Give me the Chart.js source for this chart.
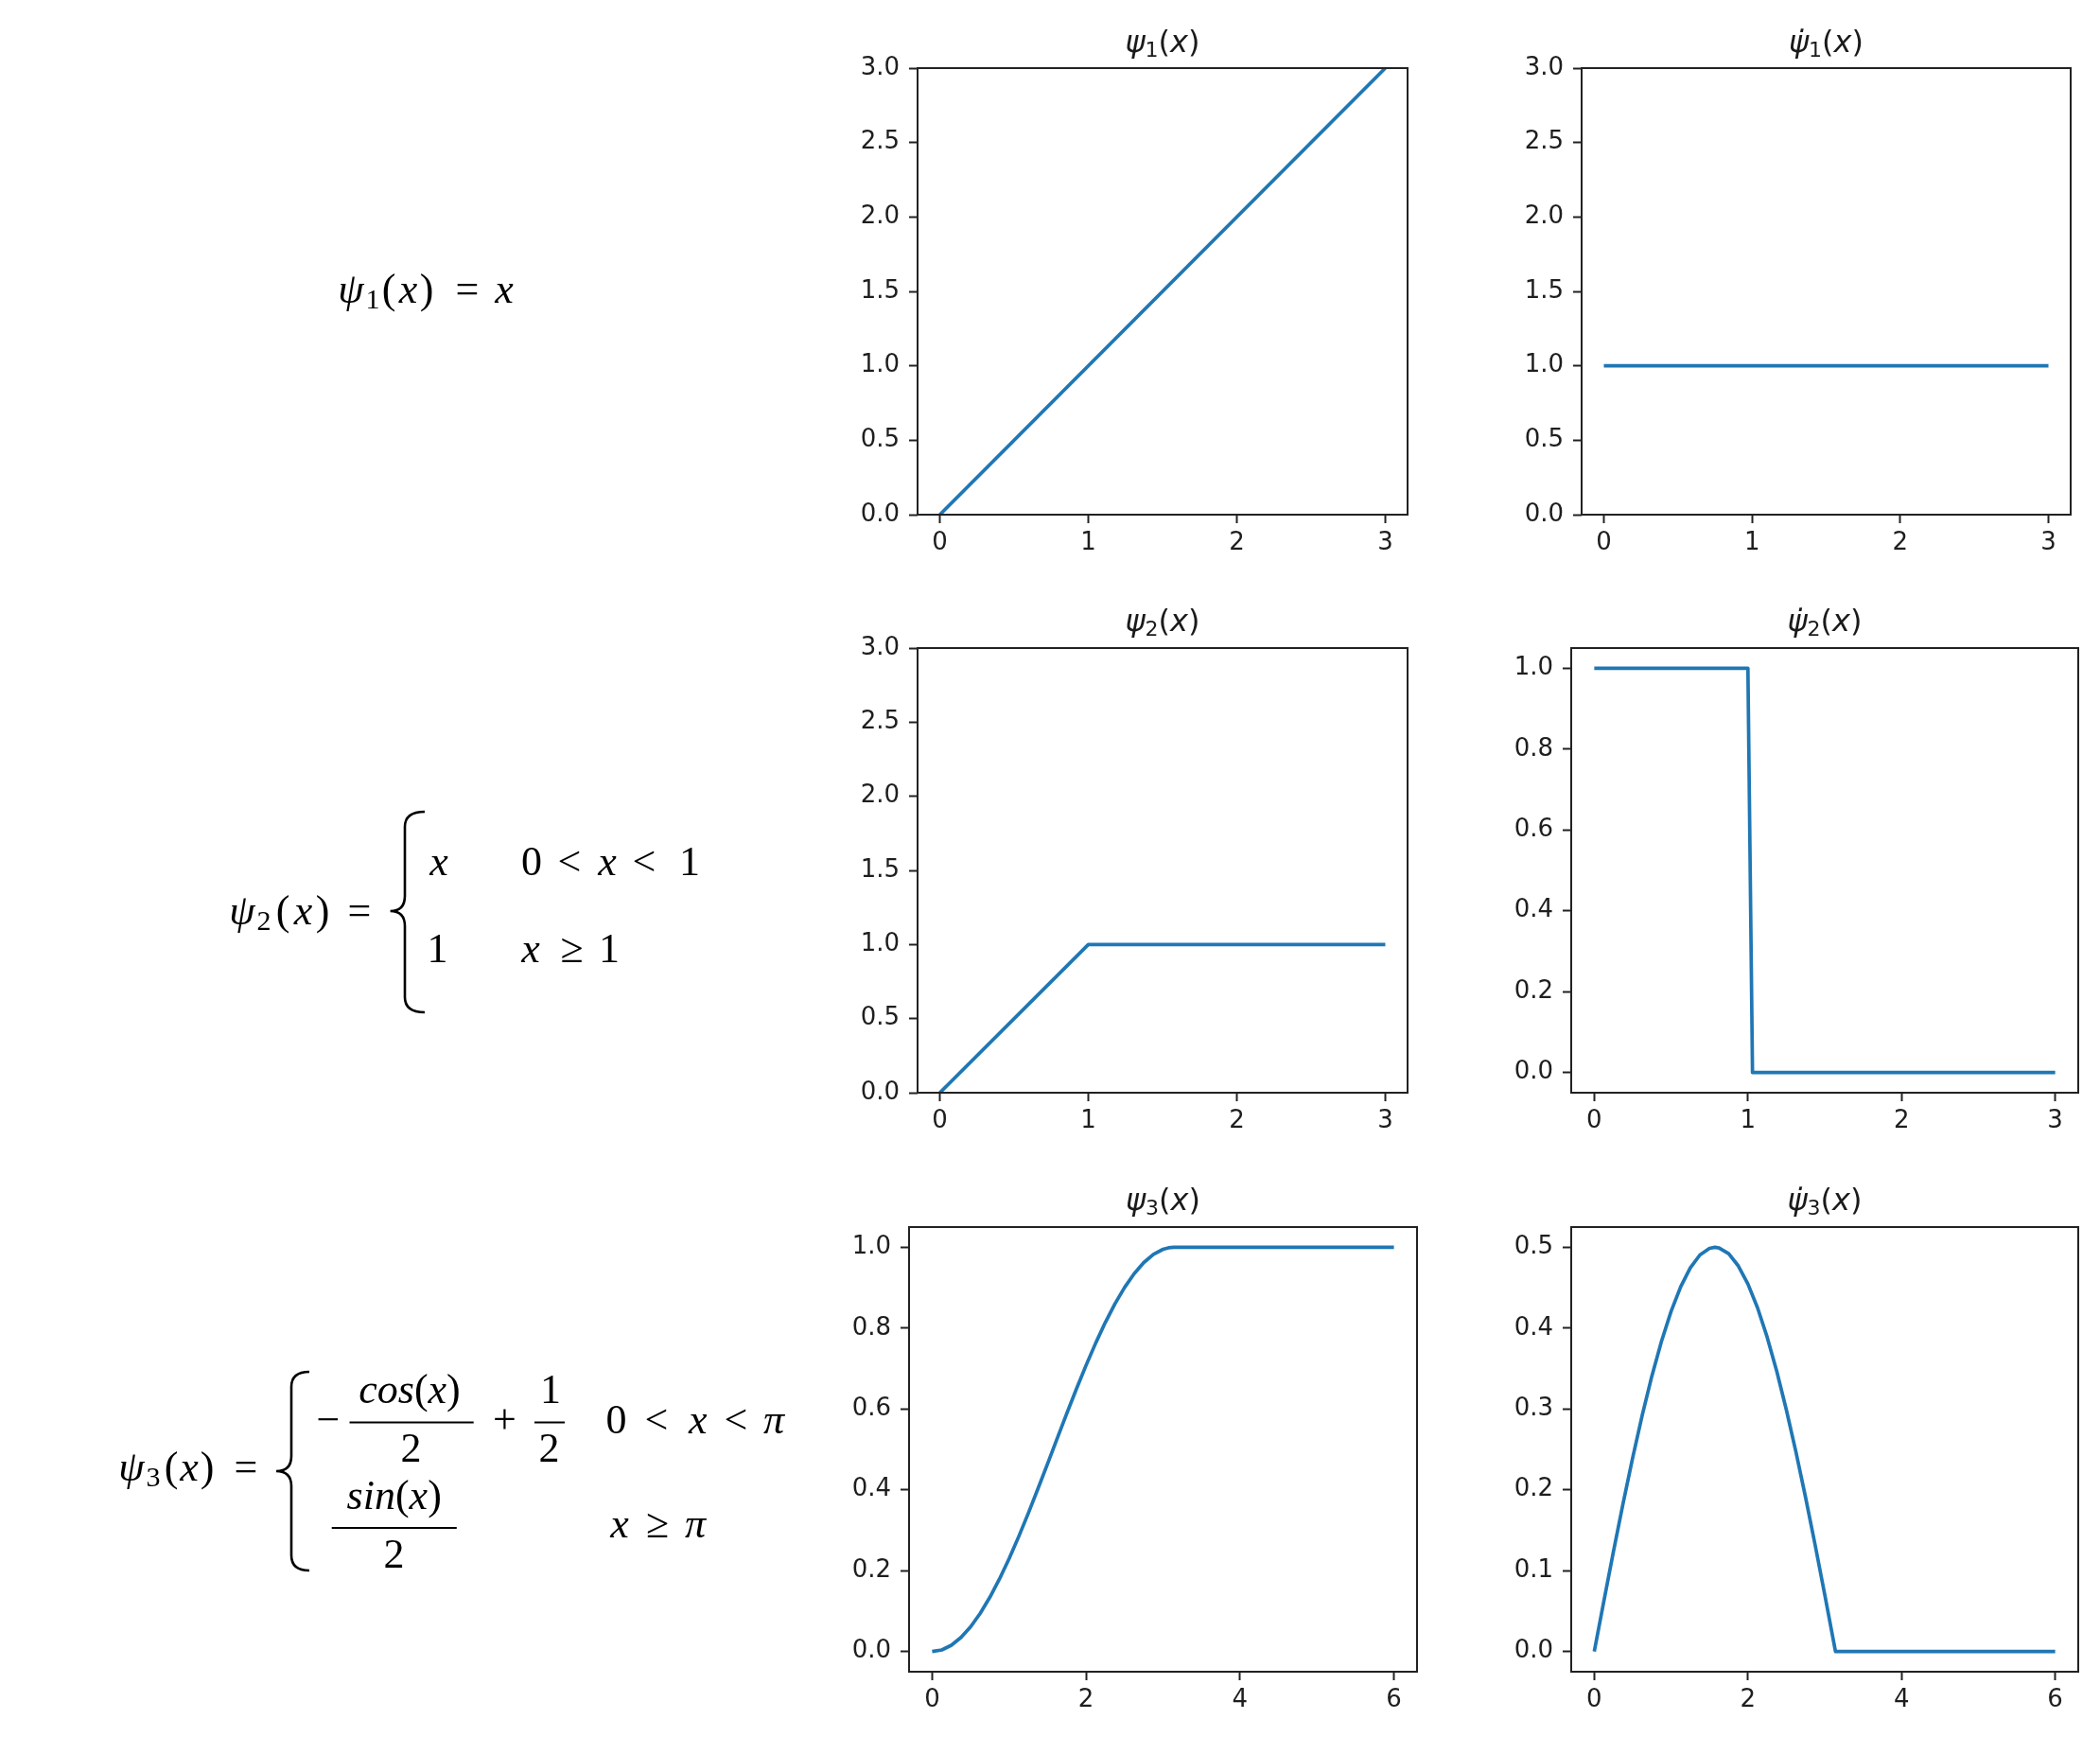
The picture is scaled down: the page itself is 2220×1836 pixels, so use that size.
<!DOCTYPE html>
<html><head><meta charset="utf-8">
<script src="https://cdn.jsdelivr.net/npm/chart.js@4.4.0/dist/chart.umd.min.js"></script>
<style>
html,body{margin:0;padding:0;background:#fff;}
body{width:2220px;height:1836px;position:relative;overflow:hidden;}
canvas{position:absolute;}
#math{position:absolute;left:0;top:0;}
#math text{font-family:"Liberation Serif","Times New Roman",serif;font-size:44px;fill:#000;text-anchor:middle;}
#math text.t{font-family:"DejaVu Sans",sans-serif;font-size:32px;fill:#1a1a1a;}
#math .i{font-style:italic;}
</style></head><body>
<svg id="math" width="2220" height="1836" xmlns="http://www.w3.org/2000/svg">
  <!-- formula 1 -->
  <text x="371" y="320" class="i">ψ</text>
  <text x="394" y="326" style="font-size:30px">1</text>
  <text x="411" y="320">(</text>
  <text x="431.5" y="320" class="i">x</text>
  <text x="451" y="320">)</text>
  <text x="494" y="320">=</text>
  <text x="533" y="320" class="i">x</text>

  <!-- formula 2 -->
  <text x="256" y="977" class="i">ψ</text>
  <text x="279" y="983" style="font-size:30px">2</text>
  <text x="299" y="977">(</text>
  <text x="320.6" y="977" class="i">x</text>
  <text x="341" y="977">)</text>
  <text x="380" y="977">=</text>
  <path d="M449,858 Q428,858 428,874 L428,947 Q428,963 412.6,963 Q428,963 428,979 L428,1054 Q428,1070 449,1070" fill="none" stroke="#000" stroke-width="2.6"/>
  <text x="464" y="925" class="i">x</text>
  <text x="562" y="925">0</text>
  <text x="602" y="925">&lt;</text>
  <text x="642" y="925" class="i">x</text>
  <text x="681" y="925">&lt;</text>
  <text x="729" y="925">1</text>
  <text x="462.5" y="1017">1</text>
  <text x="561" y="1017" class="i">x</text>
  <text x="604.5" y="1017">≥</text>
  <text x="644" y="1017">1</text>

  <!-- formula 3 -->
  <text x="139" y="1565" class="i">ψ</text>
  <text x="162" y="1571" style="font-size:30px">3</text>
  <text x="181" y="1565">(</text>
  <text x="200" y="1565" class="i">x</text>
  <text x="219" y="1565">)</text>
  <text x="260" y="1565">=</text>
  <path d="M327,1450 Q308,1450 308,1466 L308,1539 Q308,1555 292,1555 Q308,1555 308,1571 L308,1644 Q308,1660 327,1660" fill="none" stroke="#000" stroke-width="2.6"/>
  <text x="347" y="1515">−</text>
  <text x="433" y="1483"><tspan class="i">cos</tspan>(<tspan class="i">x</tspan>)</text>
  <line x1="369.5" y1="1503.5" x2="500.7" y2="1503.5" stroke="#000" stroke-width="2"/>
  <text x="434.5" y="1545">2</text>
  <text x="533.5" y="1515">+</text>
  <text x="582" y="1483">1</text>
  <line x1="565" y1="1503.5" x2="597" y2="1503.5" stroke="#000" stroke-width="2"/>
  <text x="580.5" y="1545">2</text>
  <text x="651.5" y="1515">0</text>
  <text x="694" y="1515">&lt;</text>
  <text x="737.7" y="1515" class="i">x</text>
  <text x="778" y="1515">&lt;</text>
  <text x="818" y="1515" class="i">π</text>
  <text x="416.7" y="1595"><tspan class="i">sin</tspan>(<tspan class="i">x</tspan>)</text>
  <line x1="350.7" y1="1615" x2="482.8" y2="1615" stroke="#000" stroke-width="2"/>
  <text x="416.5" y="1657">2</text>
  <text x="655" y="1625" class="i">x</text>
  <text x="695" y="1625">≥</text>
  <text x="735" y="1625" class="i">π</text>

  <!-- panel titles -->
  <text class="t" x="1229" y="55"><tspan class="i">ψ</tspan><tspan style="font-size:22px" dy="5">1</tspan><tspan dy="-5">(</tspan><tspan class="i">x</tspan>)</text>
  <text class="t" x="1930.5" y="55"><tspan class="i">ψ̇</tspan><tspan style="font-size:22px" dy="5">1</tspan><tspan dy="-5">(</tspan><tspan class="i">x</tspan>)</text>
  <text class="t" x="1229" y="667"><tspan class="i">ψ</tspan><tspan style="font-size:22px" dy="5">2</tspan><tspan dy="-5">(</tspan><tspan class="i">x</tspan>)</text>
  <text class="t" x="1929" y="667"><tspan class="i">ψ̇</tspan><tspan style="font-size:22px" dy="5">2</tspan><tspan dy="-5">(</tspan><tspan class="i">x</tspan>)</text>
  <text class="t" x="1229.5" y="1279"><tspan class="i">ψ</tspan><tspan style="font-size:22px" dy="5">3</tspan><tspan dy="-5">(</tspan><tspan class="i">x</tspan>)</text>
  <text class="t" x="1929" y="1279"><tspan class="i">ψ̇</tspan><tspan style="font-size:22px" dy="5">3</tspan><tspan dy="-5">(</tspan><tspan class="i">x</tspan>)</text>
</svg>
<script>
// ---------- data ----------
const psi1X = [0, 3];
const psi1Y = [0, 3];

const dpsi1X = [0, 3];
const dpsi1Y = [1, 1];

const psi2X = [0, 1, 3];
const psi2Y = [0, 1, 1];

const dpsi2X = [0, 1.0, 1.03, 3];
const dpsi2Y = [1, 1, 0, 0];

const psi3X = [0, 0.125, 0.25, 0.375, 0.5, 0.625, 0.75, 0.875, 1.0, 1.125, 1.25, 1.375, 1.5, 1.625, 1.75, 1.875,
               2.0, 2.125, 2.25, 2.375, 2.5, 2.625, 2.75, 2.875, 3.0, 3.07, 3.14, 6.0];
const psi3Y = [0, 0.0039, 0.0155, 0.0347, 0.0612, 0.0945, 0.1342, 0.1795, 0.2298, 0.2844, 0.3423, 0.4028, 0.4646, 0.5271, 0.5891, 0.6497,
               0.7081, 0.7630, 0.8141, 0.8602, 0.9006, 0.9347, 0.9622, 0.9825, 0.9950, 0.9987, 1.0, 1.0];

const dpsi3X = [0, 0.125, 0.25, 0.375, 0.5, 0.625, 0.75, 0.875, 1.0, 1.125, 1.25, 1.375, 1.5, 1.57, 1.625, 1.75, 1.875,
                2.0, 2.125, 2.25, 2.375, 2.5, 2.625, 2.75, 2.875, 3.0, 3.14, 6.0];
const dpsi3Y = [0, 0.0623, 0.1237, 0.1832, 0.2397, 0.2926, 0.3408, 0.3837, 0.4207, 0.4511, 0.4745, 0.4905, 0.4987, 0.5, 0.4992, 0.4920, 0.4770,
                0.4546, 0.4252, 0.3891, 0.3469, 0.2992, 0.2469, 0.1909, 0.1318, 0.0706, 0, 0];

// tick values and labels
const xTicks3 = [0, 1, 2, 3];
const xTickLabels3 = ['0', '1', '2', '3'];
const xTicks6 = [0, 2, 4, 6];
const xTickLabels6 = ['0', '2', '4', '6'];
const yTicks3 = [0, 0.5, 1, 1.5, 2, 2.5, 3];
const yTickLabels3 = ['0.0', '0.5', '1.0', '1.5', '2.0', '2.5', '3.0'];
const yTicks1 = [0, 0.2, 0.4, 0.6, 0.8, 1.0];
const yTickLabels1 = ['0.0', '0.2', '0.4', '0.6', '0.8', '1.0'];
const yTicksHalf = [0, 0.1, 0.2, 0.3, 0.4, 0.5];
const yTickLabelsHalf = ['0.0', '0.1', '0.2', '0.3', '0.4', '0.5'];

// ---------- panels (layout) ----------
const panels = [
  {xs: psi1X,  ys: psi1Y,  x: [-0.15, 3.15], y: [0, 3],        xt: xTicks3, xl: xTickLabels3, yt: yTicks3,    yl: yTickLabels3,    area: [970, 72, 1488, 544]},
  {xs: dpsi1X, ys: dpsi1Y, x: [-0.15, 3.15], y: [0, 3],        xt: xTicks3, xl: xTickLabels3, yt: yTicks3,    yl: yTickLabels3,    area: [1672, 72, 2189, 544]},
  {xs: psi2X,  ys: psi2Y,  x: [-0.15, 3.15], y: [0, 3],        xt: xTicks3, xl: xTickLabels3, yt: yTicks3,    yl: yTickLabels3,    area: [970, 685, 1488, 1155]},
  {xs: dpsi2X, ys: dpsi2Y, x: [-0.15, 3.15], y: [-0.05, 1.05], xt: xTicks3, xl: xTickLabels3, yt: yTicks1,    yl: yTickLabels1,    area: [1661, 685, 2197, 1155]},
  {xs: psi3X,  ys: psi3Y,  x: [-0.3, 6.3],   y: [-0.05, 1.05], xt: xTicks6, xl: xTickLabels6, yt: yTicks1,    yl: yTickLabels1,    area: [961, 1297, 1498, 1767]},
  {xs: dpsi3X, ys: dpsi3Y, x: [-0.3, 6.3],   y: [-0.025, 0.525], xt: xTicks6, xl: xTickLabels6, yt: yTicksHalf, yl: yTickLabelsHalf, area: [1661, 1297, 2197, 1767]}
];

const frame = {
  id: 'frame',
  afterDraw(ch) {
    const a = ch.chartArea, ctx = ch.ctx;
    ctx.save();
    ctx.strokeStyle = '#222';
    ctx.lineWidth = 2;
    ctx.strokeRect(a.left, a.top, a.right - a.left, a.bottom - a.top);
    ctx.restore();
  }
};

const tickFont = {family: '"DejaVu Sans", sans-serif', size: 26};
const svg = document.getElementById('math');

panels.forEach(p => {
  const yW = 110, xH = 70, pad = 30, padB = 10;
  const w = (p.area[2] - p.area[0]) + yW + 2 * pad;
  const h = (p.area[3] - p.area[1]) + xH + pad + padB;
  const c = document.createElement('canvas');
  c.width = w; c.height = h;
  c.style.left = (p.area[0] - yW - pad) + 'px';
  c.style.top = (p.area[1] - pad) + 'px';
  c.style.width = w + 'px'; c.style.height = h + 'px';
  document.body.insertBefore(c, svg);
  const gridOpts = {display: true, drawOnChartArea: false, drawTicks: true, tickLength: 9, tickWidth: 2, tickColor: '#222'};
  new Chart(c, {
    type: 'line',
    data: {datasets: [{
      data: p.xs.map((x, i) => ({x: x, y: p.ys[i]})),
      borderColor: '#1f77b4', borderWidth: 3.7, pointRadius: 0, fill: false,
      tension: 0, borderJoinStyle: 'round', borderCapStyle: 'butt'
    }]},
    options: {
      responsive: false, animation: false, devicePixelRatio: 1,
      layout: {padding: {left: pad, right: pad, top: pad, bottom: padB}},
      plugins: {legend: {display: false}, tooltip: {enabled: false}, title: {display: false}},
      scales: {
        x: {
          type: 'linear', position: 'bottom', min: p.x[0], max: p.x[1],
          afterFit: s => { s.height = xH; },
          afterBuildTicks: s => { s.ticks = p.xt.map(v => ({value: v})); },
          ticks: {callback: (v, i) => p.xl[i], font: tickFont, color: '#1e1e1e', padding: 6, maxRotation: 0, autoSkip: false},
          grid: gridOpts, border: {display: false}
        },
        y: {
          type: 'linear', position: 'left', min: p.y[0], max: p.y[1],
          afterFit: s => { s.width = yW; },
          afterBuildTicks: s => { s.ticks = p.yt.map(v => ({value: v})); },
          ticks: {callback: (v, i) => p.yl[i], font: tickFont, color: '#1e1e1e', padding: 10, autoSkip: false},
          grid: gridOpts, border: {display: false}
        }
      }
    },
    plugins: [frame]
  });
});
</script>
</body></html>
